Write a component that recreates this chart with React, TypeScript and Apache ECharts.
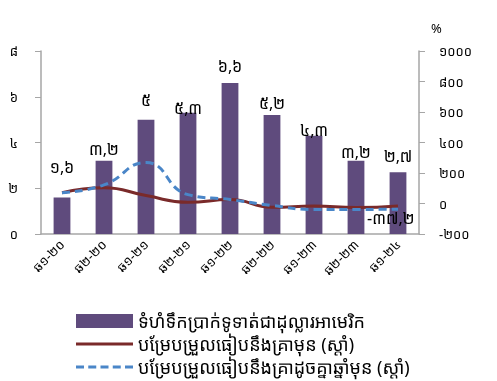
import React, { useEffect, useRef } from "react";
import * as echarts from "echarts";

const categories = ["ឆ១-២០", "ឆ២-២០", "ឆ១-២១", "ឆ២-២១", "ឆ១-២២", "ឆ២-២២", "ឆ១-២៣", "ឆ២-២៣", "ឆ១-២៤"];
const barValues = [1.6, 3.2, 5, 5.3, 6.6, 5.2, 4.3, 3.2, 2.7];
const qoqValues = [71, 103, 52, 8, 26, -24, -17, -27, -17];
const yoyValues = [71, 122, 269, 58, 26, -13, -39, -39, -37.2];
const leftTicks = ["០", "២", "៤", "៦", "៨"];
const seriesNames = [
  "ទំហំទឹកប្រាក់ទូទាត់ជាដុល្លារអាមេរិក",
  "បម្រែបម្រួលធៀបនឹងគ្រាមុន (ស្តាំ)",
  "បម្រែបម្រួលធៀបនឹងគ្រាដូចគ្នាឆ្នាំមុន (ស្តាំ)",
];

// label placement tweaks (pixels lifted above the default position)
const labelLift = [18, 0, 8, -7, 5, 0, -6, -3, 4];

const khDigits = "០១២៣៤៥៦៧៨៩";
const toKh = (v: number | string) =>
  String(v).replace(/[0-9]/g, (d) => khDigits[Number(d)]).replace(".", ",");

const FONT = "'Noto Sans Khmer', 'Khmer OS', 'DejaVu Sans', sans-serif";

const SOLID_ICON = "path://M0,0h57v3h-57z";
const DASH_ICON = "path://M0,0h8v3h-8zM12.25,0h8v3h-8zM24.5,0h8v3h-8zM36.75,0h8v3h-8zM49,0h8v3h-8z";

export default function App() {
  const ref = useRef<HTMLDivElement>(null);
  useEffect(() => {
    if (!ref.current) return;
    const chart = echarts.init(ref.current, null, { renderer: "svg" });
    const axisColor = "#a6a6a6";
    chart.setOption({
      animation: false,
      textStyle: { fontFamily: FONT },
      grid: { left: 41, right: 78, top: 51, bottom: 147 },
      legend: {
        orient: "vertical",
        left: 76,
        top: 312,
        padding: 0,
        itemGap: 5,
        itemWidth: 57,
        itemHeight: 14,
        textStyle: { fontSize: 18, lineHeight: 18, color: "#000", fontFamily: FONT },
        data: [
          { name: seriesNames[0], icon: "rect" },
          { name: seriesNames[1], icon: SOLID_ICON },
          { name: seriesNames[2], icon: DASH_ICON },
        ],
      },
      xAxis: {
        type: "category",
        data: categories,
        axisLine: { lineStyle: { color: axisColor, width: 1.5 } },
        axisTick: { show: false },
        axisLabel: { rotate: 45, fontSize: 13, color: "#000", margin: 8, interval: 0, fontFamily: FONT },
      },
      yAxis: [
        {
          type: "value",
          min: 0,
          max: 8,
          interval: 2,
          splitLine: { show: false },
          axisLine: { show: true, lineStyle: { color: axisColor, width: 1.5 } },
          axisTick: { show: true, length: 6, lineStyle: { color: axisColor } },
          axisLabel: {
            margin: 23,
            fontSize: 13,
            color: "#000",
            fontFamily: FONT,
            formatter: (v: number) => leftTicks[v / 2],
          },
        },
        {
          type: "value",
          min: -200,
          max: 1000,
          interval: 200,
          name: "%",
          nameGap: 17,
          nameTextStyle: { color: "#000", fontSize: 13, align: "left", padding: [0, 0, 0, 12] },
          splitLine: { show: false },
          axisLine: { show: true, lineStyle: { color: axisColor, width: 1.5 } },
          axisTick: { show: true, length: 6, lineStyle: { color: axisColor } },
          axisLabel: {
            margin: 20,
            fontSize: 13,
            color: "#000",
            fontFamily: FONT,
            formatter: (v: number) => (v < 0 ? "-" + toKh(-v) : toKh(v)),
          },
        },
      ],
      series: [
        {
          name: seriesNames[0],
          type: "bar",
          yAxisIndex: 0,
          data: barValues.map((v, i) => ({
            value: v,
            label: { offset: [0, -labelLift[i]] },
          })),
          barWidth: "40%",
          itemStyle: { color: "#5f4b7d" },
          label: {
            show: true,
            position: "top",
            distance: 4,
            fontSize: 16,
            color: "#000",
            fontFamily: FONT,
            formatter: (p: any) => toKh(p.value),
          },
        },
        {
          name: seriesNames[1],
          type: "line",
          yAxisIndex: 1,
          data: qoqValues,
          smooth: true,
          symbol: "none",
          lineStyle: { color: "#7a2a2a", width: 3 },
          itemStyle: { color: "#7a2a2a" },
        },
        {
          name: seriesNames[2],
          type: "line",
          yAxisIndex: 1,
          data: yoyValues,
          smooth: true,
          symbol: "none",
          showSymbol: false,
          lineStyle: { color: "#4a86c8", width: 3, type: [8, 5] },
          itemStyle: { color: "#4a86c8" },
          endLabel: {
            show: true,
            distance: 5,
            offset: [-36, 9],
            fontSize: 16,
            color: "#000",
            fontFamily: FONT,
            formatter: (p: any) => "-" + toKh(Math.abs(p.value)),
          },
        },
      ],
    });
    return () => chart.dispose();
  }, []);
  return (
    <div
      ref={ref}
      style={{ position: "fixed", left: 0, top: 0, width: 497, height: 381 }}
    />
  );
}
